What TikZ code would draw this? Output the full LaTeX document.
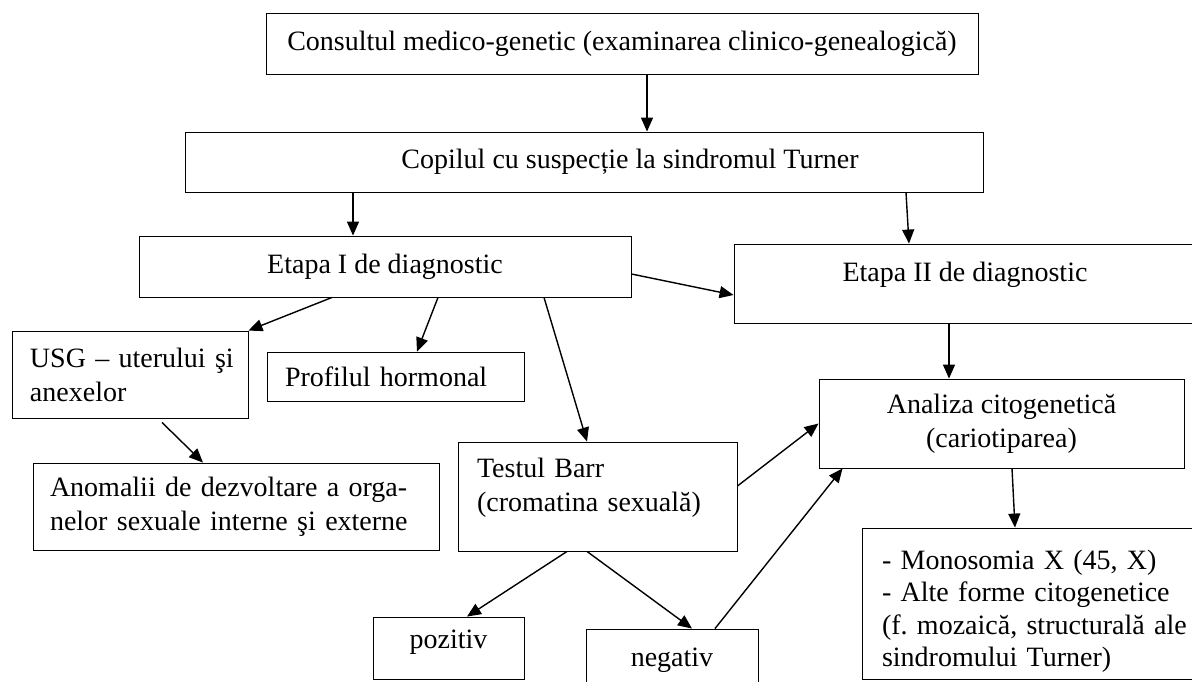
\documentclass[tikz,border=0pt]{standalone}
\usepackage{fontspec}
\setmainfont{Liberation Serif}
\usetikzlibrary{arrows.meta}
\frenchspacing
% raise a line of text inside its box
\newcommand{\lift}[1]{\rule[-#1]{0pt}{#1}}
\tikzset{
  box/.style={draw, line width=0.9pt, inner sep=0pt, align=center},
  link/.style={-{Triangle[length=14pt,width=12pt]}, line width=1.4pt},
}
\begin{document}
\begin{tikzpicture}[x=1pt, y=-1pt, font=\fontsize{28}{34}\selectfont]
\useasboundingbox (0,0) rectangle (1192,681);
% Top of the scheme
\node[box, minimum width=712pt, minimum height=61pt] (consult) at (622,43.5) {Consultul medico-genetic (examinarea clinico-genealogică)};
\node[box, minimum width=798pt, minimum height=60pt] (copil) at (584,162) {\hspace*{92pt}Copilul cu suspecție la sindromul Turner};
% The two stages
\node[box, minimum width=492pt, minimum height=61pt] (etapa1) at (385,266.5) {Etapa I de diagnostic};
\node[box, minimum width=462pt, minimum height=79pt] (etapa2) at (965,283.5) {Etapa II de diagnostic\lift{24pt}};
% Stage I
\node[box, align=left, text width=200pt, inner xsep=18pt, minimum height=87pt] (usg) at (130,374.5) {\mbox{USG – uterului şi}\\anexelor};
\node[box, align=left, text width=221pt, inner xsep=18pt, minimum height=49pt] (profil) at (395.5,376.5) {Profilul hormonal};
\node[box, align=left, text width=372pt, inner xsep=17pt, minimum height=87pt] (anomalii) at (236,506.5) {Anomalii de dezvoltare a orga-\\nelor sexuale interne şi externe};
\node[box, align=left, text width=241pt, inner xsep=19pt, minimum height=109pt] (testul) at (597.5,496.5) {Testul Barr\\(cromatina sexuală)\lift{24pt}};
\node[box, minimum width=151pt, minimum height=62pt] (pozitiv) at (448.5,648) {pozitiv\lift{17pt}};
\node[box, minimum width=172pt, minimum height=62pt] (negativ) at (672,660) {negativ};
% Stage II
\node[box, minimum width=365pt, minimum height=89pt] (analiza) at (1001.5,423.5) {Analiza citogenetică\\(cariotiparea)};
\node[box, align=left, text width=320pt, inner xsep=20pt, minimum height=151pt, font=\fontsize{28}{32.5}\selectfont] (mono) at (1042,603.5) {\rule{0pt}{35pt}- Monosomia X (45, X)\\- Alte forme citogenetice\\(f. mozaică, structurală ale\\sindromului Turner)};

% Arrows
\draw[link] ([xshift=25pt]consult.south) -- ([xshift=63pt]copil.north);
\draw[link] ([xshift=-231pt]copil.south) -- ([xshift=-32pt]etapa1.north);
\draw[link] ([xshift=322pt]copil.south) -- ([xshift=-56pt]etapa2.north);
\draw[link] ([yshift=-7.5pt]etapa1.east) -- ([yshift=-11.5pt]etapa2.west);
\draw[link] ([xshift=-53pt]etapa1.south) -- (usg.north east);
\draw[link] ([xshift=53pt]etapa1.south) -- ([xshift=21.5pt]profil.north);
\draw[link] ([xshift=159pt]etapa1.south) -- ([xshift=-10.5pt]testul.north);
\draw[link] ([xshift=32pt,yshift=-4pt]usg.south) -- ([xshift=-33pt]anomalii.north);
\draw[link] ([xshift=-16pt]etapa2.south) -- ([xshift=-52.5pt]analiza.north);
\draw[link] ([yshift=10.5pt]testul.east) -- (analiza.west);
\draw[link] ([xshift=-30.5pt]testul.south) -- ([xshift=18.5pt]pozitiv.north);
\draw[link] ([xshift=-10.5pt]testul.south) -- ([xshift=20pt]negativ.north);
\draw[link] ([xshift=43pt]negativ.north) -- ([xshift=24pt]analiza.south west);
\draw[link] ([xshift=10.5pt]analiza.south) -- ([xshift=-27pt]mono.north);
\end{tikzpicture}
\end{document}
